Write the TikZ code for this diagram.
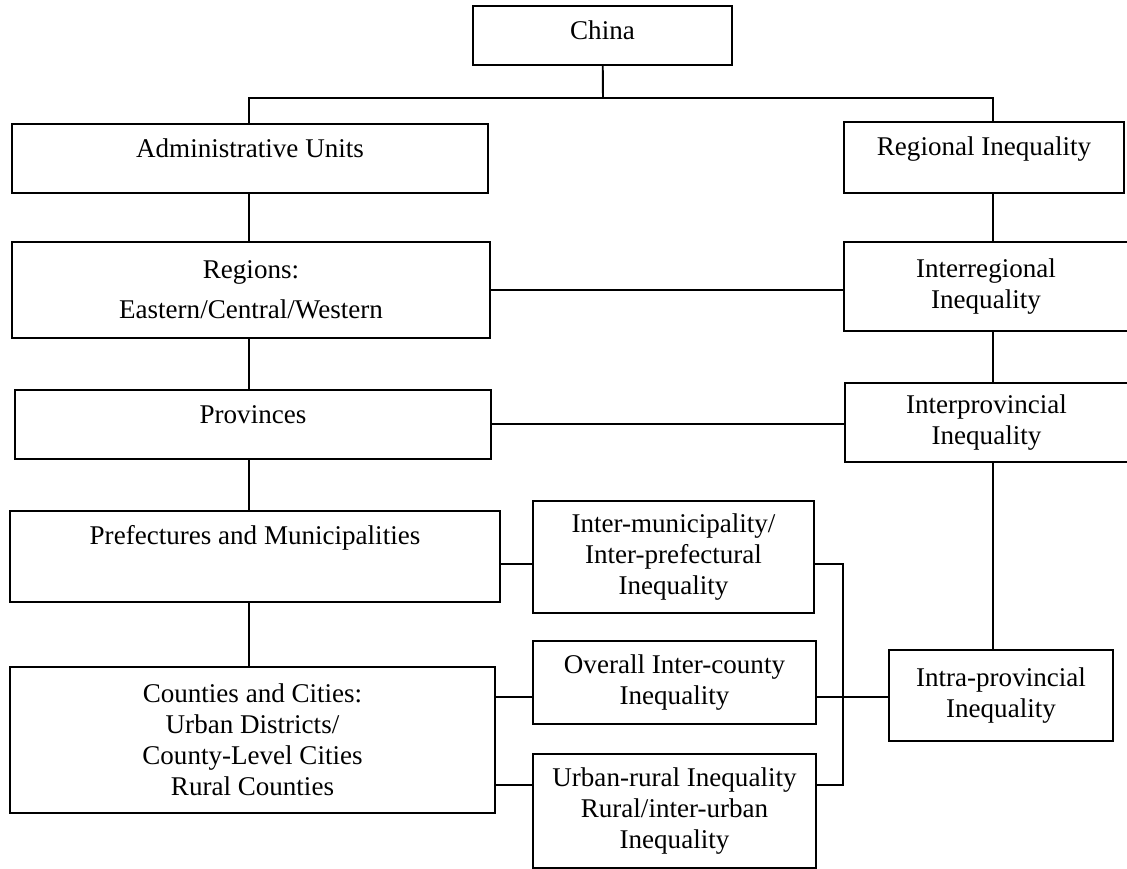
\documentclass[tikz,border=0pt]{standalone}
\usepackage{fontspec}
\setmainfont{Liberation Serif}
\usepackage{tikz}
\usetikzlibrary{positioning}

\begin{document}
\begin{tikzpicture}[
      x=0.02cm, y=-0.02cm,
      box/.style={draw, line width=1.1pt, inner xsep=2pt,
        font=\fontsize{15.4}{17.6}\selectfont},
      single/.style={box, anchor=north, inner ysep=0pt, text height=0.68cm},
      multi/.style={box, align=center},
      link/.style={line width=1.1pt}
    ]
    \useasboundingbox (0,0) rectangle (1127,869);
    % left column: administrative units
    \node(china)[single, minimum width=5.18cm, text depth=0.5cm] at (602.5,5) {China};
    \node(admin)[single, minimum width=9.52cm, text depth=0.7cm] at (250,123) {Administrative Units};
    \node(regions)[multi, minimum width=9.56cm, minimum height=1.92cm] at (251,290) {Regions:\\[0.18cm] Eastern/Central/Western};
    \node(provinces)[single, minimum width=9.52cm, text depth=0.7cm] at (253,389) {Provinces};
    \node(prefect)[single, minimum width=9.8cm, text depth=1.14cm] at (255,510) {Prefectures and Municipalities};
    \node(counties)[multi, minimum width=9.7cm, minimum height=2.92cm] at (252.5,740) {Counties and Cities:\\ Urban Districts/\\ County-Level Cities\\ Rural Counties};
    % right column: inequality
    \node(regional)[single, minimum width=5.6cm, text depth=0.74cm] at (984,121) {Regional Inequality};
    \node(interreg)[multi, minimum width=5.68cm, minimum height=1.78cm] at (986,286.5) {Interregional\\ Inequality};
    \node(interprov)[multi, minimum width=5.66cm, minimum height=1.58cm] at (986.5,422.5) {Interprovincial\\ Inequality};
    \node(intraprov)[multi, minimum width=4.48cm, minimum height=1.82cm] at (1001,695.5) {Intra-provincial\\ Inequality};
    % middle column
    \node(intermun)[multi, minimum width=5.62cm, minimum height=2.24cm] at (673.5,557) {Inter-municipality/\\ Inter-prefectural\\ Inequality};
    \node(overall)[multi, minimum width=5.66cm, minimum height=1.66cm] at (674.5,682.5) {Overall Inter-county\\ Inequality};
    \node(urbanrural)[multi, minimum width=5.66cm, minimum height=2.28cm] at (674.5,811) {Urban-rural Inequality\\ Rural/inter-urban\\ Inequality};

    \coordinate(split) at (603,98);
    \coordinate(lcol) at (249,0);
    \coordinate(rcol) at (993,0);
    \coordinate(jtop) at (843,564);
    \coordinate(jmid) at (843,697);
    \coordinate(jbot) at (843,785);

    \draw[link] (china) -- (split);
    \draw[link] (admin.north -| lcol) |- (split) -| (regional.north -| rcol);
    \draw[link] (admin.south -| lcol) -- (regions.north -| lcol);
    \draw[link] (regions.south -| lcol) -- (provinces.north -| lcol);
    \draw[link] (provinces.south -| lcol) -- (prefect.north -| lcol);
    \draw[link] (prefect.south -| lcol) -- (counties.north -| lcol);
    \draw[link] (regional.south -| rcol) -- (interreg.north -| rcol);
    \draw[link] (interreg.south -| rcol) -- (interprov.north -| rcol);
    \draw[link] (interprov.south -| rcol) -- (intraprov.north -| rcol);
    \draw[link] (regions.east) -- (regions.east -| interreg.west);
    \draw[link] (provinces.east) -- (provinces.east -| interprov.west);
    \draw[link] (jtop -| prefect.east) -- (jtop -| intermun.west);
    \draw[link] (jmid -| counties.east) -- (jmid -| overall.west);
    \draw[link] (jbot -| counties.east) -- (jbot -| urbanrural.west);
    \draw[link] (jtop -| intermun.east) -- (jtop) -- (jbot) -- (jbot -| urbanrural.east);
    \draw[link] (jmid -| overall.east) -- (jmid -| intraprov.west);
\end{tikzpicture}
\end{document}
